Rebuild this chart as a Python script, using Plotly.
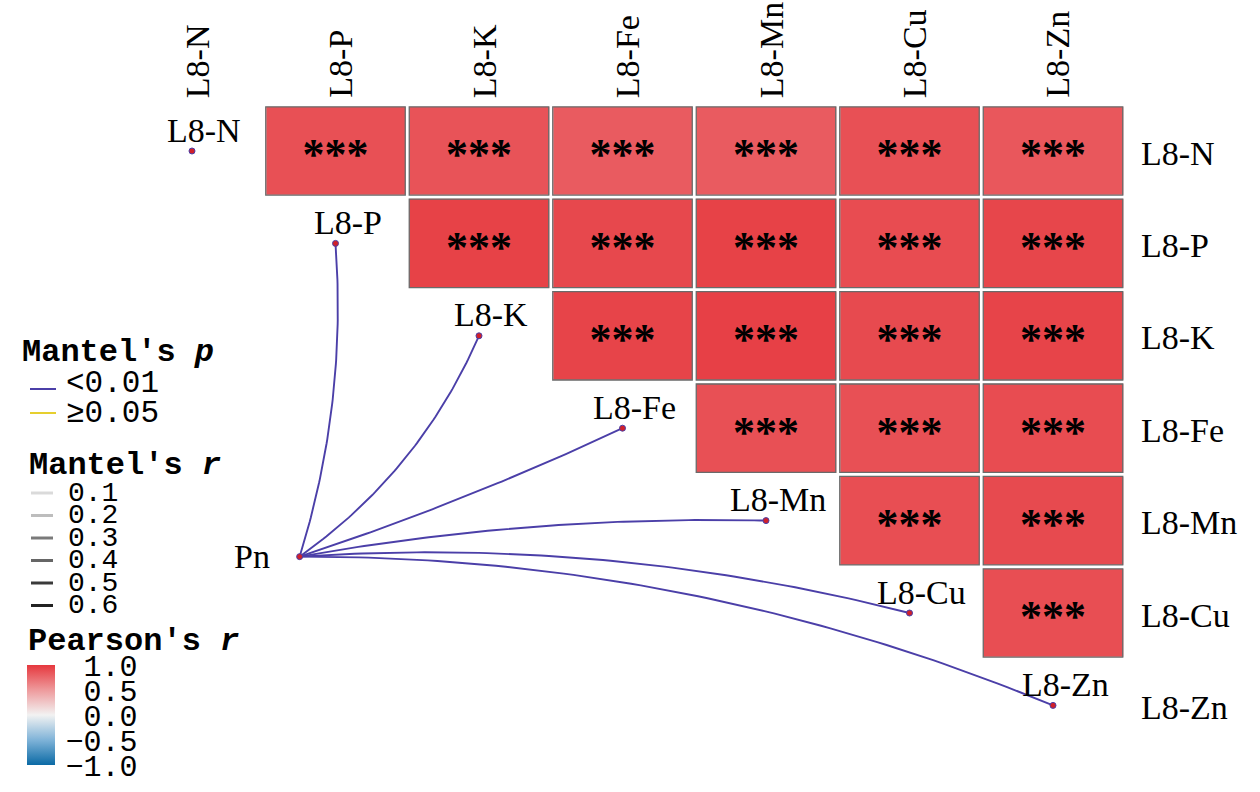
import numpy as np
import plotly.graph_objects as go

# ---------------- data ----------------
variables = ["L8-N", "L8-P", "L8-K", "L8-Fe", "L8-Mn", "L8-Cu", "L8-Zn"]

# upper-triangle Pearson's r, row i holds columns i+1 .. 6
pearson_rows = [
    [0.88, 0.86, 0.82, 0.82, 0.88, 0.84],
    [0.95, 0.92, 0.95, 0.90, 0.93],
    [0.94, 0.96, 0.91, 0.94],
    [0.88, 0.88, 0.90],
    [0.89, 0.91],
    [0.89],
]
signif_rows = [
    ["***"] * 6,
    ["***"] * 5,
    ["***"] * 4,
    ["***"] * 3,
    ["***"] * 2,
    ["***"] * 1,
]

env_name = "Pn"
mantel_targets = ["L8-P", "L8-K", "L8-Fe", "L8-Mn", "L8-Cu", "L8-Zn"]
mantel_r = [0.30, 0.30, 0.30, 0.30, 0.30, 0.30]
mantel_p = [0.001, 0.001, 0.001, 0.001, 0.001, 0.001]

mantel_p_labels = ["<0.01", "≥0.05"]
mantel_r_levels = [0.1, 0.2, 0.3, 0.4, 0.5, 0.6]
pearson_ticks = [1.0, 0.5, 0.0, -0.5, -1.0]

# ---------------- layout / style ----------------
W, H = 1260, 792
X0, DX = 192.0, 143.5     # pixel of column 0, pixels per column
Y0, DY = 151.0, 92.4      # pixel of row 0, pixels per row
PN_POS = (0.75, 4.39)     # anchor of the environment node (index units)
link_curv = [0.095, 0.14, 0.03, -0.05, -0.08, -0.10]

SERIF = "Liberation Serif"
MONO = "Liberation Mono"
P_COLORS = ["#4B3FA8", "#E6CF2E"]
R_GRAYS = ["#DADADA", "#BDBDBD", "#7A7A7A", "#666666", "#3A3A3A", "#222222"]

colorscale = [
    [0.0, "#0B6AA5"],
    [0.25, "#7FB3D8"],
    [0.5, "#F2F2F2"],
    [0.75, "#EE9A9C"],
    [1.0, "#E6383E"],
]

n = len(variables)
xr = [(0 - X0) / DX, (W - X0) / DX]
yr = [(H - Y0) / DY, (0 - Y0) / DY]


def px2paper(px, py):
    return px / W, 1 - py / H


# build matrices
Z = [[None] * n for _ in range(n)]
T = [[""] * n for _ in range(n)]
for i, row in enumerate(pearson_rows):
    for k, v in enumerate(row):
        j = i + 1 + k
        Z[i][j] = v
        T[i][j] = signif_rows[i][k]

fig = go.Figure()

tv = pearson_ticks
ttext = [("−" if t < 0 else "\u00a0") + f"{abs(t):.1f}" for t in tv]
fig.add_trace(go.Heatmap(
    z=Z, x=list(range(n)), y=list(range(n)),
    zmin=-1, zmax=1, colorscale=colorscale,
    xgap=4, ygap=4, hoverinfo="skip",
    colorbar=dict(
        x=27 / W, xanchor="left", y=1 - 715 / H, yanchor="middle",
        len=100, lenmode="pixels", thickness=28, thicknessmode="pixels",
        outlinewidth=0, ticks="outside", ticklen=5, tickcolor="rgba(0,0,0,0)",
        tickvals=tv, ticktext=ttext,
        tickfont=dict(family=MONO, size=30, color="black"),
        ticklabelposition="outside", xpad=0, ypad=0,
    ),
))

# cell outlines
shapes = []
hx = 0.5 - 2.0 / DX
hy = 0.5 - 2.0 / DY
for i in range(n):
    for j in range(n):
        if Z[i][j] is not None:
            shapes.append(dict(type="rect", xref="x", yref="y",
                               x0=j - hx, x1=j + hx, y0=i - hy, y1=i + hy,
                               line=dict(color="#6A6A6A", width=1.3),
                               fillcolor="rgba(0,0,0,0)", layer="above"))

# significance stars
sx, sy, st = [], [], []
for i in range(n):
    for j in range(n):
        if T[i][j]:
            sx.append(j)
            sy.append(i + 0.08)
            st.append(f"<b>{T[i][j]}</b>")
fig.add_trace(go.Scatter(x=sx, y=sy, mode="text", text=st,
                         textfont=dict(family=SERIF, size=44, color="black"),
                         hoverinfo="skip", showlegend=False))

# Mantel links (quadratic curves)
px0 = np.array([PN_POS[0] * DX, PN_POS[1] * DY])
for k, tgt in enumerate(mantel_targets):
    t = variables.index(tgt)
    p2 = np.array([t * DX, t * DY])
    d = p2 - px0
    L = np.hypot(*d)
    perp = np.array([-d[1], d[0]]) / L
    ctrl = (px0 + p2) / 2 + perp * link_curv[k] * L
    s = np.linspace(0, 1, 80)[:, None]
    pts = (1 - s) ** 2 * px0 + 2 * (1 - s) * s * ctrl + s ** 2 * p2
    col = P_COLORS[0] if mantel_p[k] < 0.01 else P_COLORS[1]
    fig.add_trace(go.Scatter(x=pts[:, 0] / DX, y=pts[:, 1] / DY, mode="lines",
                             line=dict(color=col, width=1 + 3 * mantel_r[k]),
                             hoverinfo="skip", showlegend=False))

# nodes
fig.add_trace(go.Scatter(
    x=list(range(n)) + [PN_POS[0]], y=list(range(n)) + [PN_POS[1]],
    mode="markers",
    marker=dict(size=6, color="#D0202A", line=dict(color="#4B3FA8", width=1)),
    hoverinfo="skip", showlegend=False))

ann = []
# node labels on the diagonal
for i, v in enumerate(variables):
    ann.append(dict(x=i, y=i, xref="x", yref="y", text=v, showarrow=False,
                    xshift=12, yshift=21, xanchor="center", yanchor="middle",
                    font=dict(family=SERIF, size=34, color="black")))
ann.append(dict(x=PN_POS[0], y=PN_POS[1], xref="x", yref="y", text=env_name,
                showarrow=False, xanchor="right", yanchor="middle", xshift=-28,
                font=dict(family=SERIF, size=34, color="black")))
# top column labels
for j, v in enumerate(variables):
    ann.append(dict(x=j, y=-0.55, xref="x", yref="y", text=v, showarrow=False,
                    textangle=-90, xanchor="center", yanchor="bottom", xshift=5,
                    font=dict(family=SERIF, size=34, color="black")))
# right row labels
for i, v in enumerate(variables):
    ann.append(dict(x=n - 0.5, y=i, xref="x", yref="y", text=v, showarrow=False,
                    xanchor="left", yanchor="middle", xshift=14, yshift=-2,
                    font=dict(family=SERIF, size=34, color="black")))

# ---------------- legends ----------------
def legend_text(px, py, text, size, bold=False):
    x, y = px2paper(px, py)
    ann.append(dict(x=x, y=y, xref="paper", yref="paper", text=(f"<b>{text}</b>" if bold else text),
                    showarrow=False, xanchor="left", yanchor="middle",
                    font=dict(family=MONO, size=size, color="black")))


def legend_line(px_a, px_b, py, color, width):
    xa, y = px2paper(px_a, py)
    xb, _ = px2paper(px_b, py)
    shapes.append(dict(type="line", xref="paper", yref="paper", x0=xa, x1=xb, y0=y, y1=y,
                       line=dict(color=color, width=width)))


legend_text(20, 352, "Mantel's <i>p</i>", 32, bold=True)
p_rows = [383, 413]
for lab, col, py in zip(mantel_p_labels, P_COLORS, p_rows):
    legend_line(30, 56, py + 6 if lab.startswith("<") else py, col, 2)
    legend_text(64, py, lab, 31)

legend_text(27, 465, "Mantel's <i>r</i>", 32, bold=True)
for k, (lv, g) in enumerate(zip(mantel_r_levels, R_GRAYS)):
    py = 493 + 22.5 * k
    legend_line(31, 53, py, g, 3)
    legend_text(66, py, f"{lv:.1f}", 28)

legend_text(26, 641, "Pearson's <i>r</i>", 32, bold=True)

fig.update_layout(
    width=W, height=H, margin=dict(l=0, r=0, t=0, b=0),
    paper_bgcolor="white", plot_bgcolor="white",
    xaxis=dict(range=xr, visible=False, fixedrange=True),
    yaxis=dict(range=yr, visible=False, fixedrange=True),
    shapes=shapes, annotations=ann, showlegend=False,
)

fig.write_html("out.html", config={"displayModeBar": False},
               post_script="document.body.style.margin='0';document.body.style.padding='0';")
